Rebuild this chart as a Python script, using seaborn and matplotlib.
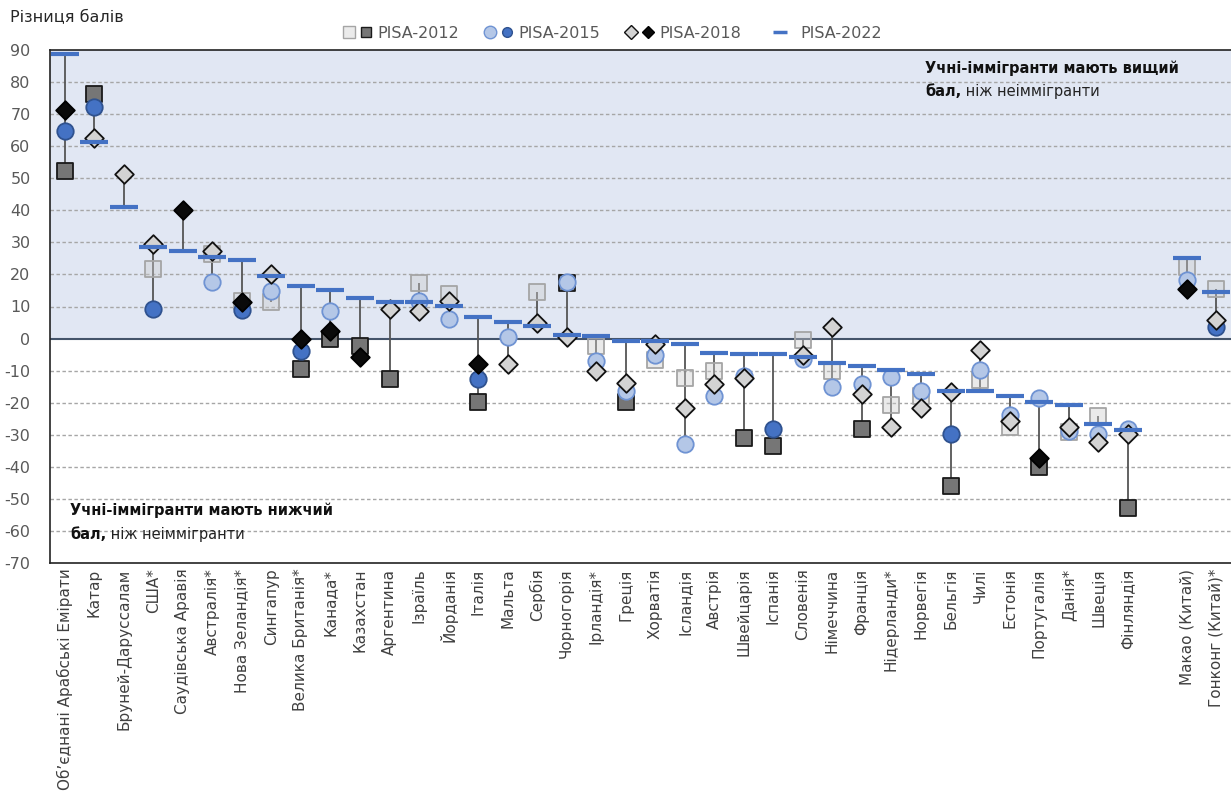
import matplotlib
matplotlib.use("Agg")
import matplotlib.pyplot as plt
from matplotlib.lines import Line2D
from matplotlib.legend_handler import HandlerTuple
import numpy as np
import pandas as pd
import seaborn as sns

nan = np.nan

countries = ["Об’єднані Арабські Емірати", "Катар", "Бруней-Даруссалам", "США*", "Саудівська Аравія",
             "Австралія*", "Нова Зеландія*", "Сингапур", "Велика Британія*", "Канада*", "Казахстан",
             "Аргентина", "Ізраїль", "Йорданія", "Італія", "Мальта", "Сербія", "Чорногорія", "Ірландія*",
             "Греція", "Хорватія", "Ісландія", "Австрія", "Швейцарія", "Іспанія", "Словенія", "Німеччина",
             "Франція", "Нідерланди*", "Норвегія", "Бельгія", "Чилі", "Естонія", "Португалія", "Данія*",
             "Швеція", "Фінляндія", "", "Макао (Китай)", "Гонконг (Китай)*"]

# score difference (immigrant - non-immigrant)
pisa2012 = [52.3, 76.2, nan, 21.7, nan, 26.5, 11.7, 11.4, -9.4, 0.0, -2.3, -12.7, 17.2, 13.8, -19.9, nan,
            14.5, 17.4, -2.4, -19.9, -6.8, -12.3, -10.2, -30.9, -33.4, -0.6, -10.0, -28.2, -20.6, -18.0,
            -46.0, -12.8, -27.6, -40.2, -29.2, -24.3, -52.8, nan, 22.4, 15.4]
pisa2015 = [64.8, 72.2, nan, 9.2, nan, 17.7, 8.8, 14.8, -4.0, 8.5, nan, nan, 11.7, 6.0, -12.7, 0.5,
            nan, 17.5, -7.0, -16.4, -5.2, -33.0, -17.9, -11.8, -28.2, -6.3, -15.0, -14.1, -11.9, -16.2,
            -29.8, -9.9, -23.8, -18.5, -28.7, -29.7, -28.1, nan, 18.4, 3.6]
pisa2018 = [71.2, 62.5, 51.3, 29.4, 40.1, 27.3, 11.4, 20.0, -0.2, 2.3, -5.7, 9.2, 8.6, 11.7, -8.0, -7.8,
            4.7, 0.5, -10.1, -14.0, -1.8, -21.7, -14.1, -12.4, nan, -5.2, 3.5, -17.2, -27.6, -21.7,
            -16.7, -3.7, -25.6, -37.2, -27.6, -32.4, -29.7, nan, 15.4, 5.7]
pisa2022 = [88.8, 61.3, 40.9, 28.5, 27.4, 25.4, 24.6, 19.5, 16.3, 15.0, 12.6, 11.4, 11.4, 10.2, 6.7, 5.1,
            3.8, 1.0, 0.7, -0.9, -0.9, -1.8, -4.5, -4.9, -4.9, -5.7, -7.6, -8.5, -9.7, -10.9,
            -16.5, -16.5, -18.0, -19.7, -20.8, -26.8, -28.4, nan, 25.0, 14.6]

# 1 = difference with 2022 is significant (dark marker)
sig2012 = [1, 1, 0, 0, 0, 0, 0, 0, 1, 1, 1, 1, 0, 0, 1, 0, 0, 1, 0, 1,
           0, 0, 0, 1, 1, 0, 0, 1, 0, 0, 1, 0, 0, 1, 0, 0, 1, 0, 0, 0]
sig2015 = [1, 1, 0, 1, 0, 0, 1, 0, 1, 0, 0, 0, 0, 0, 1, 0, 0, 0, 0, 0,
           0, 0, 0, 0, 1, 0, 0, 0, 0, 0, 1, 0, 0, 0, 0, 0, 0, 0, 0, 1]
sig2018 = [1, 0, 0, 0, 1, 0, 1, 0, 1, 1, 1, 0, 0, 0, 1, 0, 0, 0, 0, 0,
           0, 0, 0, 0, 0, 0, 0, 0, 0, 0, 0, 0, 0, 1, 0, 0, 0, 0, 1, 0]

df = pd.DataFrame({"country": countries, "pos": np.arange(len(countries)),
                   "2012": pisa2012, "2015": pisa2015, "2018": pisa2018, "2022": pisa2022,
                   "s2012": sig2012, "s2015": sig2015, "s2018": sig2018})
df["lo"] = df[["2012", "2015", "2018", "2022"]].min(axis=1)
df["hi"] = df[["2012", "2015", "2018", "2022"]].max(axis=1)

sns.set_style("white")
plt.rcParams["font.family"] = ["DejaVu Sans"]
plt.rcParams["axes.unicode_minus"] = False

fig = plt.figure(figsize=(12.31, 7.96), dpi=100)
ax = fig.add_axes([50 / 1231, 1 - 563 / 796, 1181 / 1231, 513 / 796])

ax.axhspan(0, 90, color="#E1E7F3", zorder=0, lw=0)
for y in range(-60, 90, 10):
    if y != 0:
        ax.axhline(y, color="#A6A6A6", lw=1, ls=(0, (2.5, 1.8)), zorder=0.5)
ax.axhline(0, color="#44546A", lw=1.5, zorder=0.6)

ax.vlines(df["pos"], df["lo"], df["hi"], color="#555555", lw=1.3, zorder=1)

styles = {
    "2012": ("s", 120, [((0.8, 0.8, 0.8, 0.4), "#A5A5A5"), ("#767676", "#1A1A1A")]),
    "2015": ("o", 140, [("#B4C7E7", "#6F93D3"), ("#4472C4", "#2F528F")]),
    "2018": ("D", 90, [("#D3D3D3", "#111111"), ("#0A0A0A", "#000000")]),
}
z = 2
for year, (mk, size, cols) in styles.items():
    for sig in (0, 1):
        sub = df[(df["s" + year] == sig) & df[year].notna()]
        face, edge = cols[sig]
        sns.scatterplot(data=sub, x="pos", y=year, marker=mk, s=size, color=face,
                        edgecolor=edge, linewidth=1.3, ax=ax, zorder=z, legend=False)
    z += 1

sns.scatterplot(data=df[df["2022"].notna()], x="pos", y="2022", marker="_", s=420,
                color="#4472C4", linewidth=3, ax=ax, zorder=z, legend=False)

ax.set_xlim(-0.5, len(countries) - 0.5)
ax.set_ylim(-70, 90)
ax.set_yticks(range(-70, 91, 10))
ax.set_xticks(df["pos"])
ax.set_xticklabels(countries, rotation=90, fontsize=11, color="#404040")
ax.tick_params(axis="y", labelsize=11.5, labelcolor="#595959", length=0, pad=14)
ax.tick_params(axis="x", length=0, pad=4)
ax.set_xlabel("")
ax.set_ylabel("")
for side in ["top", "left", "bottom"]:
    ax.spines[side].set_visible(True)
    ax.spines[side].set_color("#222222")
    ax.spines[side].set_linewidth(1.2)
ax.spines["right"].set_visible(False)

fig.text(10 / 1231, 1 - 18 / 796, "Різниця балів", fontsize=11.5, color="#262626", va="center")

# annotations
t1 = ax.text(0.741, 0.965, "Учні-іммігранти мають вищий", transform=ax.transAxes,
             fontsize=10.5, fontweight="bold", color="#111111", va="center")
t2 = ax.text(0.741, 0.92, "бал,", transform=ax.transAxes,
             fontsize=10.5, fontweight="bold", color="#111111", va="center")
ax.annotate(" ніж неіммігранти", xy=(1, 0), xycoords=t2, va="bottom", fontsize=10.5, color="#222222")
b1 = ax.text(0.017, 0.103, "Учні-іммігранти мають нижчий", transform=ax.transAxes,
             fontsize=10.5, fontweight="bold", color="#111111", va="center")
b2 = ax.text(0.017, 0.055, "бал,", transform=ax.transAxes,
             fontsize=10.5, fontweight="bold", color="#111111", va="center")
ax.annotate(" ніж неіммігранти", xy=(1, 0), xycoords=b2, va="bottom", fontsize=10.5, color="#222222")

# legend
def mk(m, face, edge, ms=8):
    return Line2D([], [], ls="none", marker=m, markersize=ms, markerfacecolor=face,
                  markeredgecolor=edge, markeredgewidth=1)

handles = [
    (mk("s", "#EBEBEB", "#A5A5A5"), mk("s", "#767676", "#1A1A1A", 7)),
    (mk("o", "#B4C7E7", "#6F93D3", 9), mk("o", "#4472C4", "#2F528F", 7)),
    (mk("D", "#D3D3D3", "#111111", 7), mk("D", "#0A0A0A", "#000000", 6)),
    Line2D([], [], ls="none", marker="_", markersize=10, markeredgewidth=2.5, color="#4472C4"),
]
labels = ["PISA-2012", "PISA-2015", "PISA-2018", "PISA-2022"]
fig.legend(handles, labels, handler_map={tuple: HandlerTuple(ndivide=None, pad=0.2)},
           loc="center", bbox_to_anchor=(612 / 1231, 1 - 33 / 796), ncol=4, frameon=False,
           fontsize=11.5, labelcolor="#595959", columnspacing=1.5, handlelength=1.9, handletextpad=0.3)

fig.savefig("out.png", dpi=100)
